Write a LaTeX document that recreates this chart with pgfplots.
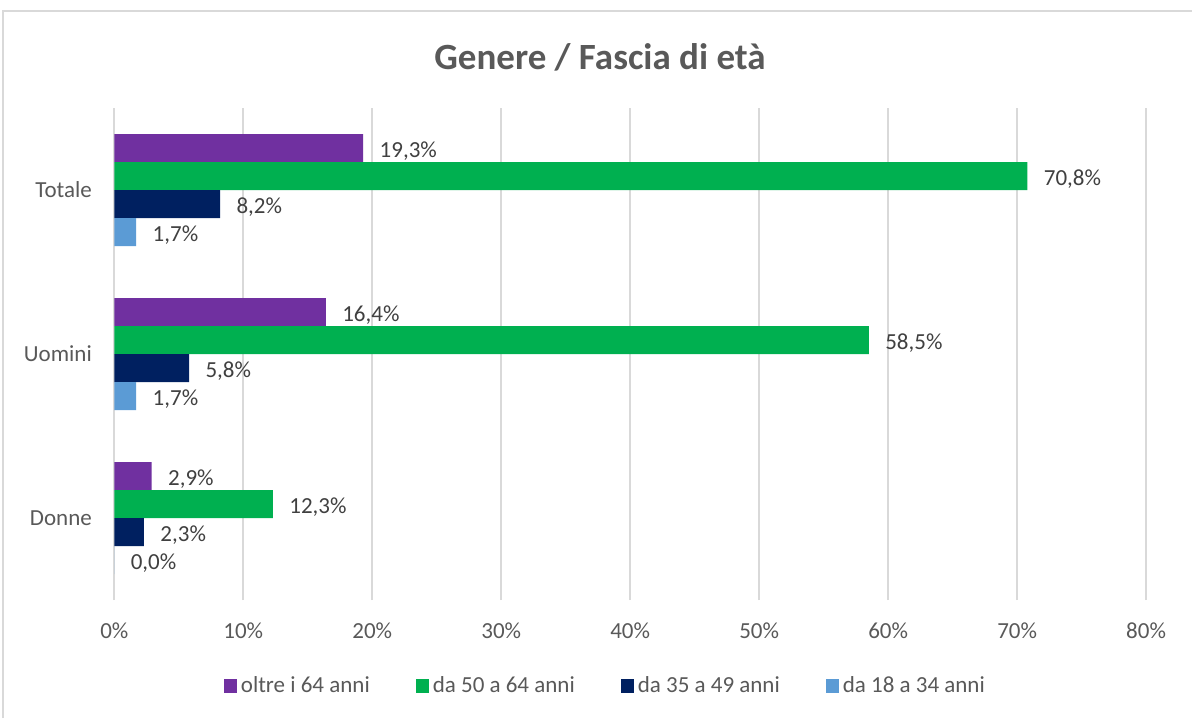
\documentclass[border=0pt]{standalone}
\usepackage{fontspec}
\setmainfont{Carlito}
\usepackage{pgfplots}
\pgfplotsset{compat=1.18}
\definecolor{cpurple}{HTML}{7030A0}
\definecolor{cgreen}{HTML}{00B050}
\definecolor{cnavy}{HTML}{002060}
\definecolor{cblue}{HTML}{5B9BD5}
\definecolor{cgrid}{HTML}{D9D9D9}
\definecolor{ctext}{HTML}{595959}
\definecolor{clabel}{HTML}{404040}
\begin{document}
\begin{tikzpicture}[font=\fontsize{11.5}{13.8}\selectfont]
\useasboundingbox (0,0) rectangle (596pt,359pt);
\draw[cgrid, line width=1pt] (1.5pt,0) -- (1.5pt,353.5pt) -- (596pt,353.5pt);
\node[font=\fontsize{18.5}{22}\selectfont\bfseries, text=ctext] at (300pt,330.5pt) {Genere / Fascia di età};
\begin{axis}[
  at={(57.15pt,59pt)}, anchor=south west,
  scale only axis, width=515.9pt, height=246pt,
  xbar, bar width=14pt,
  xmin=0, xmax=80, ymin=-0.5, ymax=2.5,
  xtick={0,10,...,80},
  xticklabel={\pgfmathprintnumber{\tick}\%},
  ytick={0,1,2}, yticklabels={Donne,Uomini,Totale},
  /pgf/number format/assume math mode=true,
  major tick length=0pt,
  axis line style={draw=none},
  xmajorgrids, major grid style={cgrid, line width=1pt},
  ticklabel style={font=\fontsize{11.5}{13.8}\selectfont, text=ctext},
  xticklabel style={yshift=-8pt},
  yticklabel style={xshift=-7.7pt},
  point meta=x,
  nodes near coords={\pgfmathprintnumber[fixed,fixed zerofill,precision=1,use comma]{\pgfplotspointmeta}\%},
  nodes near coords style={font=\fontsize{11.5}{13.8}\selectfont, text=clabel, xshift=4.7pt, yshift=-1.5pt},
  legend columns=4,
  legend style={at={(0.4769,-0.1748)}, anchor=center, draw=none, fill=none,
    font=\fontsize{11.5}{13.8}\selectfont, text=ctext,
    /tikz/every even column/.append style={column sep=21pt}},
  legend image code/.code={\fill[#1] (0pt,-3.5pt) rectangle (6.5pt,3.5pt);},
]
\addplot[fill=cpurple, draw=none, bar shift=21pt] coordinates {(2.9,0) (16.4,1) (19.3,2)};
\addplot[fill=cgreen, draw=none, bar shift=7pt] coordinates {(12.3,0) (58.5,1) (70.8,2)};
\addplot[fill=cnavy, draw=none, bar shift=-7pt] coordinates {(2.3,0) (5.8,1) (8.2,2)};
\addplot[fill=cblue, draw=none, bar shift=-21pt] coordinates {(0.0,0) (1.7,1) (1.7,2)};
\legend{oltre i 64 anni, da 50 a 64 anni, da 35 a 49 anni, da 18 a 34 anni}
\end{axis}
\end{tikzpicture}
\end{document}
